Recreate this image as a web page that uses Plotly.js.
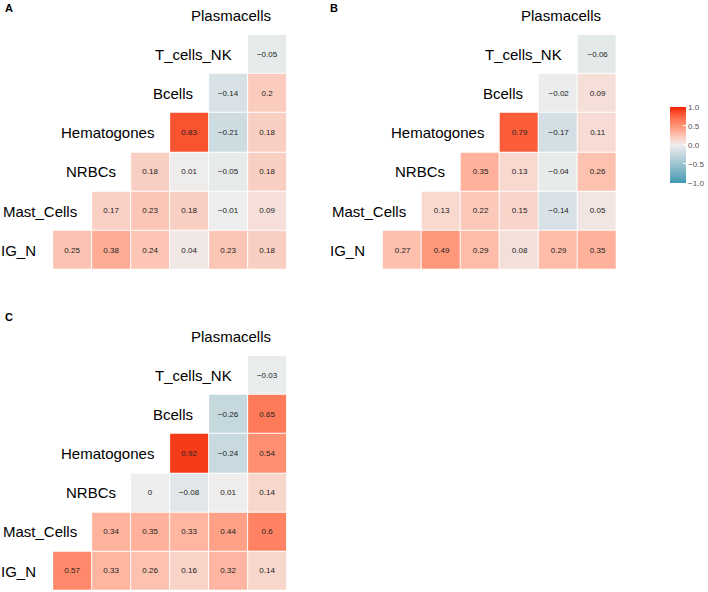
<!DOCTYPE html>
<html>
<head>
<meta charset="utf-8">
<script src="https://cdn.plot.ly/plotly-3.0.1.min.js"></script>
<style>html,body{margin:0;padding:0;background:#fff;}#chart{width:708px;height:592px;}</style>
</head>
<body>
<div id="chart"></div>
<script>
// Variables (diagonal labels), bottom to top
const variables = ["IG_N", "Mast_Cells", "NRBCs", "Hematogones", "Bcells", "T_cells_NK", "Plasmacells"];
// Each row r (IG_N .. T_cells_NK) holds correlations with the columns r+1..6
const panelA = [
  [0.25, 0.38, 0.24, 0.04, 0.23, 0.18],
  [0.17, 0.23, 0.18, -0.01, 0.09],
  [0.18, 0.01, -0.05, 0.18],
  [0.83, -0.21, 0.18],
  [-0.14, 0.2],
  [-0.05]
];
const panelB = [
  [0.27, 0.49, 0.29, 0.08, 0.29, 0.35],
  [0.13, 0.22, 0.15, -0.14, 0.05],
  [0.35, 0.13, -0.04, 0.26],
  [0.79, -0.17, 0.11],
  [-0.02, 0.09],
  [-0.06]
];
const panelC = [
  [0.57, 0.33, 0.26, 0.16, 0.32, 0.14],
  [0.34, 0.35, 0.33, 0.44, 0.6],
  [0, -0.08, 0.01, 0.14],
  [0.92, -0.24, 0.54],
  [-0.26, 0.65],
  [-0.03]
];
const panelLetters = ["A", "B", "C"];
const colorbarTicks = [-1, -0.5, 0, 0.5, 1];
const colorbarTickText = ["\u22121.0", "\u22120.5", "0.0", "0.5", "1.0"];

// ---- Lab-space diverging colour scale (low / mid / high) ----
const LOW = "#3B9AB2", MID = "#EEEEEE", HIGH = "#F21A00";
function hex2rgb(h){h=h.replace('#','');return [0,2,4].map(i=>parseInt(h.substr(i,2),16)/255);}
function lin(c){return c<=0.04045?c/12.92:Math.pow((c+0.055)/1.055,2.4);}
function delin(c){return c<=0.0031308?12.92*c:1.055*Math.pow(c,1/2.4)-0.055;}
const Xn=0.95047,Yn=1,Zn=1.08883;
function f(t){return t>0.008856?Math.cbrt(t):7.787*t+16/116;}
function finv(t){return t>0.206893?t*t*t:(t-16/116)/7.787;}
function rgb2lab(rgb){
  const [r,g,b]=rgb.map(lin);
  const X=r*0.4124+g*0.3576+b*0.1805, Y=r*0.2126+g*0.7152+b*0.0722, Z=r*0.0193+g*0.1192+b*0.9505;
  const fx=f(X/Xn),fy=f(Y/Yn),fz=f(Z/Zn);
  return [116*fy-16,500*(fx-fy),200*(fy-fz)];
}
function lab2rgb(lab){
  const fy=(lab[0]+16)/116, fx=fy+lab[1]/500, fz=fy-lab[2]/200;
  const X=Xn*finv(fx),Y=Yn*finv(fy),Z=Zn*finv(fz);
  let r=X*3.2406+Y*-1.5372+Z*-0.4986, g=X*-0.9689+Y*1.8758+Z*0.0415, b=X*0.0557+Y*-0.2040+Z*1.0570;
  return [r,g,b].map(c=>Math.round(Math.min(1,Math.max(0,delin(c)))*255));
}
const labLow=rgb2lab(hex2rgb(LOW)), labMid=rgb2lab(hex2rgb(MID)), labHigh=rgb2lab(hex2rgb(HIGH));
const colorscale=[];
for(let i=0;i<=40;i++){
  const t=i/40, v=-1+2*t;
  const end=v<0?labLow:labHigh, a=Math.abs(v);
  const lab=[0,1,2].map(k=>labMid[k]+(end[k]-labMid[k])*a);
  const c=lab2rgb(lab);
  colorscale.push([t,`rgb(${c[0]},${c[1]},${c[2]})`]);
}

// ---- build matrices ----
function fmt(v){return v<0?"\u2212"+String(-v):String(v);}
function build(rows){
  const z=[],txt=[];
  rows.forEach((vals,r)=>{
    const zr=new Array(6).fill(null), tr=new Array(6).fill("");
    vals.forEach((v,k)=>{zr[r+k]=v;tr[r+k]=fmt(v);});
    z.push(zr);txt.push(tr);
  });
  return {z,txt};
}

const W=708,H=592;
const panels=[
  {data:panelA,x0:53.3,x1:288,y0:34.7,y1:270},
  {data:panelB,x0:384.3,x1:619.5,y0:34.7,y1:270},
  {data:panelC,x0:53.3,x1:288,y0:355.7,y1:590.7}
];
const letterPos=[{x:3,y:8},{x:329,y:8},{x:3,y:316.5}];

const traces=[],annotations=[];
const layout={
  width:W,height:H,margin:{l:0,r:0,t:0,b:0},
  paper_bgcolor:"#fff",plot_bgcolor:"#fff",showlegend:false,
  font:{family:"Liberation Sans, Arial, sans-serif",color:"#000"}
};
const cols=[1,2,3,4,5,6], rowsIdx=[1,2,3,4,5,6];
panels.forEach((p,i)=>{
  const n=i===0?"":String(i+1);
  const {z,txt}=build(p.data);
  traces.push({
    type:"heatmap",x:cols,y:rowsIdx,z:z,text:txt,texttemplate:"%{text}",
    textfont:{size:8,color:"#222",family:"Liberation Sans, Arial, sans-serif"},
    colorscale:colorscale,zmin:-1,zmax:1,xgap:1,ygap:1,hoverinfo:"skip",
    xaxis:"x"+n,yaxis:"y"+n,showscale:i===0,
    colorbar:{x:673.3/W,xanchor:"left",y:1-144.7/H,yanchor:"middle",
      thickness:16,thicknessmode:"pixels",len:76,lenmode:"pixels",
      xpad:0,ypad:0,outlinewidth:0,tickvals:colorbarTicks,ticktext:colorbarTickText,
      ticks:"inside",ticklen:3,tickcolor:"#fff",tickwidth:1,
      tickfont:{size:8,color:"#4d4d4d",family:"Liberation Sans, Arial, sans-serif"}}
  });
  const ax={showgrid:false,zeroline:false,showticklabels:false,ticks:"",showline:false,fixedrange:true};
  layout["xaxis"+n]=Object.assign({},ax,{domain:[p.x0/W,p.x1/W],range:[0.5,6.5],anchor:"y"+n});
  layout["yaxis"+n]=Object.assign({},ax,{domain:[1-p.y1/H,1-p.y0/H],range:[0.5,6.5],anchor:"x"+n});
  // diagonal labels: variable k sits at column k-1, row k (paper coords from the panel grid)
  const cw=(p.x1-p.x0)/6, rh=(p.y1-p.y0)/6;
  variables.forEach((v,k)=>{
    const px=p.x0+(k-0.5)*cw, py=p.y1-(k+0.5)*rh;
    annotations.push({xref:"paper",yref:"paper",x:px/W,y:1-py/H,text:v,showarrow:false,
      xanchor:"right",yanchor:"middle",xshift:k===0?4:6,font:{size:15,color:"#000"}});
  });
  annotations.push({xref:"paper",yref:"paper",x:letterPos[i].x/W,y:1-letterPos[i].y/H,
    text:"<b>"+panelLetters[i]+"</b>",showarrow:false,xanchor:"left",yanchor:"middle",
    font:{size:11,color:"#000"}});
});
layout.annotations=annotations;
Plotly.newPlot("chart",traces,layout,{staticPlot:true,displayModeBar:false});
</script>
</body>
</html>
